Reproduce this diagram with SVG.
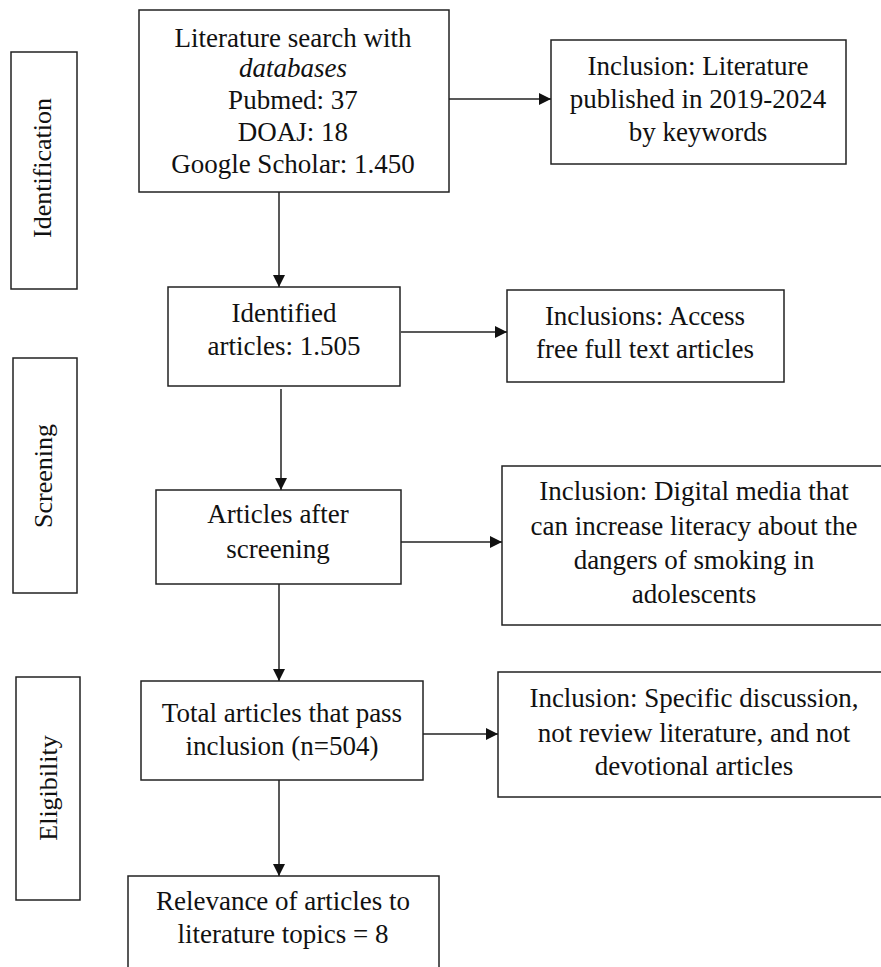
<svg xmlns="http://www.w3.org/2000/svg" width="881" height="967" viewBox="0 0 881 967">
<style>
.box{fill:#fff;stroke:#222;stroke-width:1.5}
text{font-family:"Liberation Serif","Times New Roman",serif;font-size:27px;fill:#111;text-anchor:middle}
.side{font-size:26px}
.conn line{stroke:#222;stroke-width:1.5;marker-end:url(#arr)}
</style>
<defs>
<marker id="arr" markerUnits="userSpaceOnUse" markerWidth="14" markerHeight="14" refX="12" refY="6" orient="auto">
<path d="M0,0 L12,6 L0,12 Z" fill="#111"/>
</marker>
</defs>
<rect width="881" height="967" fill="#fff"/>

<g id="stage-identification">
<rect class="box" x="11" y="52" width="66" height="237"/>
<text class="side" transform="translate(51,168) rotate(-90)">Identification</text>
</g>
<g id="stage-screening">
<rect class="box" x="13" y="358" width="64" height="235"/>
<text class="side" transform="translate(52,476) rotate(-90)">Screening</text>
</g>
<g id="stage-eligibility">
<rect class="box" x="16" y="677" width="64" height="223"/>
<text class="side" transform="translate(57,788) rotate(-90)">Eligibility</text>
</g>

<g id="search">
<rect class="box" x="139" y="10" width="310" height="182"/>
<text x="293" y="47">Literature search with</text>
<text x="293" y="77" font-style="italic">databases</text>
<text x="293" y="109">Pubmed: 37</text>
<text x="293" y="141">DOAJ: 18</text>
<text x="293" y="173">Google Scholar: 1.450</text>
</g>
<g id="inclusion1">
<rect class="box" x="551" y="40" width="295" height="124"/>
<text x="698" y="75">Inclusion: Literature</text>
<text x="698" y="108">published in 2019-2024</text>
<text x="698" y="141">by keywords</text>
</g>
<g id="identified">
<rect class="box" x="168" y="287" width="232" height="99"/>
<text x="284" y="322">Identified</text>
<text x="284" y="355">articles: 1.505</text>
</g>
<g id="inclusion2">
<rect class="box" x="507" y="290" width="277" height="92"/>
<text x="645" y="325">Inclusions: Access</text>
<text x="645" y="358">free full text articles</text>
</g>
<g id="screened">
<rect class="box" x="156" y="490" width="245" height="94"/>
<text x="278" y="523">Articles after</text>
<text x="278" y="558">screening</text>
</g>
<g id="inclusion3">
<rect class="box" x="502" y="466" width="385" height="159"/>
<text x="694" y="500">Inclusion: Digital media that</text>
<text x="694" y="535">can increase literacy about the</text>
<text x="694" y="569">dangers of smoking in</text>
<text x="694" y="603">adolescents</text>
</g>
<g id="total">
<rect class="box" x="141" y="681" width="282" height="99"/>
<text x="282" y="722">Total articles that pass</text>
<text x="282" y="755">inclusion (n=504)</text>
</g>
<g id="inclusion4">
<rect class="box" x="498" y="672" width="389" height="125"/>
<text x="694" y="707">Inclusion: Specific discussion,</text>
<text x="694" y="742">not review literature, and not</text>
<text x="694" y="775">devotional articles</text>
</g>
<g id="relevance">
<rect class="box" x="128" y="876" width="311" height="100"/>
<text x="283" y="910">Relevance of articles to</text>
<text x="283" y="943">literature topics = 8</text>
</g>

<g id="connectors" class="conn">
<line x1="279" y1="192" x2="279" y2="287"/>
<line x1="449" y1="99" x2="551" y2="99"/>
<line x1="401" y1="332" x2="507" y2="332"/>
<line x1="281" y1="389" x2="281" y2="490"/>
<line x1="401" y1="542" x2="502" y2="542"/>
<line x1="279" y1="584" x2="279" y2="681"/>
<line x1="423" y1="734" x2="498" y2="734"/>
<line x1="279" y1="780" x2="279" y2="876"/>
</g>
</svg>
